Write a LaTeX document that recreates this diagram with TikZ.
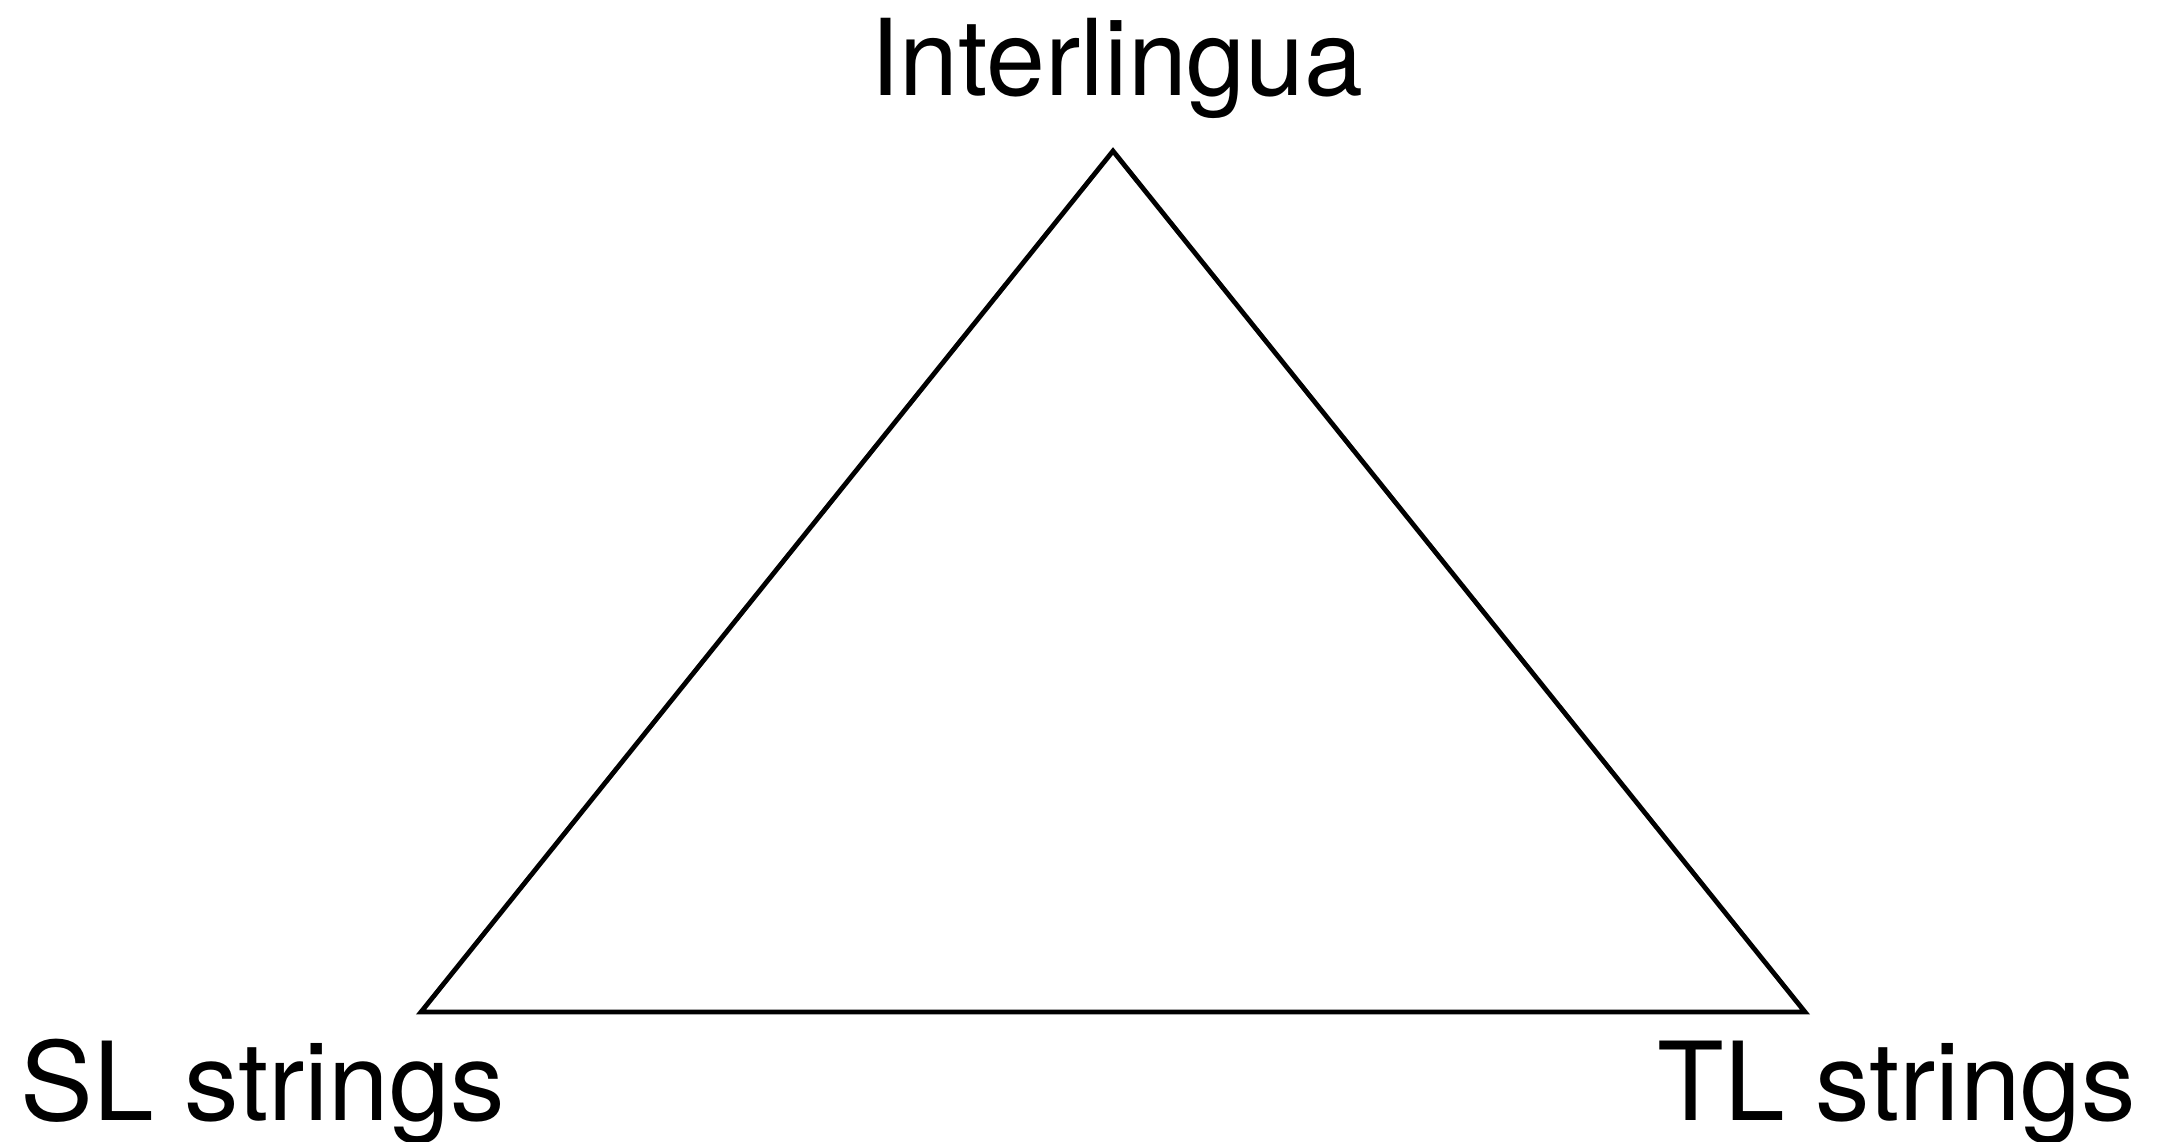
\documentclass[tikz,border=0pt]{standalone}
\usepackage{fontspec}
\setmainfont{TeX Gyre Heros}
\begin{document}
\begin{tikzpicture}[x=0.5pt,y=-0.5pt,
  lbl/.style={inner sep=0pt,font=\fontsize{53}{60}\selectfont},
  lblb/.style={inner sep=0pt,font=\fontsize{54.5}{62}\selectfont},
  tri/.style={draw=black,line width=2.4pt,line join=miter}]
\useasboundingbox (0,0) rectangle (2157,1141);
\coordinate (A) at (1113,151);
\coordinate (B) at (421,1012);
\coordinate (C) at (1805,1012);
\draw[tri] (A) -- (B) -- (C) -- cycle;
\node[lbl,anchor=base] (inter) at (1117,95) {Interlingua};
\node[lblb,anchor=base west] (sl) at (20,1120) {SL strings};
\node[lblb,anchor=base east] (tl) at (2136,1120) {TL strings};
\end{tikzpicture}
\end{document}
